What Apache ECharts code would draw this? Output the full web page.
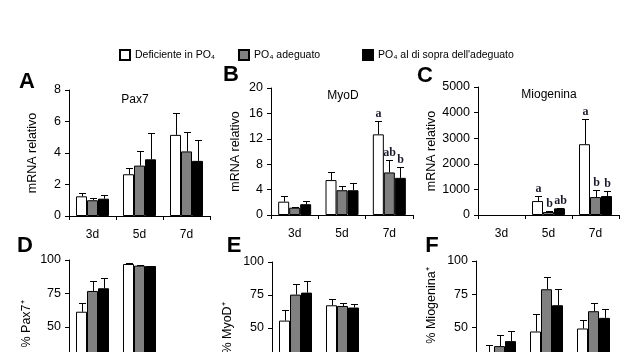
<!DOCTYPE html>
<html>
<head>
<meta charset="utf-8">
<script src="https://cdn.jsdelivr.net/npm/echarts@6/dist/echarts.min.js"></script>
<style>
html, body { margin: 0; padding: 0; background: #fff; }
#main { width: 625px; height: 352px; }
</style>
</head>
<body>
<div id="main"></div>
<script>
// categorie e gruppi
let days = ['3d', '5d', '7d'];
let groups = ['Deficiente in PO₄', 'PO₄ adeguato', "PO₄ al di sopra dell'adeguato"];

// A - Pax7 mRNA (bianco, grigio, nero)
let pax7Mean = [[1.25, 2.65, 5.15], [1.0, 3.2, 4.1], [1.1, 3.6, 3.5]];
let pax7Sem = [[0.2, 0.4, 1.4], [0.15, 0.95, 1.25], [0.25, 1.7, 1.3]];

// B - MyoD mRNA
let myodMean = [[2.1, 5.5, 12.7], [1.15, 3.9, 6.7], [1.7, 3.9, 5.85]];
let myodSem = [[0.9, 1.2, 2.1], [0.15, 0.6, 2.0], [0.5, 1.2, 1.75]];
let myodLetters = [['', '', 'a'], ['', '', 'ab'], ['', '', 'b']];

// C - Miogenina mRNA
let miogMean = [[null, 545, 2766], [null, 117, 700], [null, 260, 740]];
let miogSem = [[null, 195, 1000], [null, 38, 275], [null, 25, 195]];
let miogLetters = [['', 'a', 'a'], ['', 'b', 'b'], ['', 'ab', 'b']];

// D - % Pax7+
let pctPax7Mean = [[61.4, 97, null], [76.9, 95.8, null], [78.9, 95.5, null]];
let pctPax7Sem = [[6.8, 0.5, null], [7.4, 0.3, null], [7.4, 0.3, null]];

// E - % MyoD+
let pctMyodMean = [[55.6, 67.2, null], [75.3, 66.7, null], [76.8, 65.5, null]];
let pctMyodSem = [[7.8, 4.5, null], [8.3, 2.3, null], [9.1, 2.7, null]];

// F - % Miogenina+
let pctMiogMean = [[30, 47, 49.25], [36, 78.75, 62.25], [39.75, 66.75, 57.25]];
let pctMiogSem = [[6.7, 13.5, 6.75], [8, 9.5, 6.25], [7.75, 12, 6.5]];

let FONT = 'Arial, "Liberation Sans", sans-serif';
let BAR_W = 11;
let CAP = 3.5;
let colors = ['#ffffff', '#808080', '#000000'];

let chart = echarts.init(document.getElementById('main'));

// pannelli: griglia, assi, dati
let panels = [
    { grid: { left: 69, top: 90, width: 141, height: 126 }, max: 8, step: 2, name: 'mRNA relativo', gap: 30, shift: 0, mean: pax7Mean, sem: pax7Sem, letters: null, labels: true },
    { grid: { left: 271, top: 88, width: 142, height: 127 }, max: 20, step: 4, name: 'mRNA relativo', gap: 29, shift: 0, mean: myodMean, sem: myodSem, letters: myodLetters, labels: true },
    { grid: { left: 478, top: 87, width: 141, height: 128 }, max: 5000, step: 1000, name: 'mRNA relativo', gap: 37, shift: 0, mean: miogMean, sem: miogSem, letters: miogLetters, labels: true },
    { grid: { left: 69, top: 260, width: 141, height: 134 }, max: 100, step: 25, name: '% Pax7⁺', gap: 36, shift: 6, mean: pctPax7Mean, sem: pctPax7Sem, letters: null, labels: false },
    { grid: { left: 272, top: 262, width: 141, height: 132 }, max: 100, step: 25, name: '% MyoD⁺', gap: 38, shift: 0, mean: pctMyodMean, sem: pctMyodSem, letters: null, labels: false },
    { grid: { left: 476, top: 261, width: 141, height: 133 }, max: 100, step: 25, name: '% Miogenina⁺', gap: 38, shift: 44, mean: pctMiogMean, sem: pctMiogSem, letters: null, labels: false }
];

function makeErrSeries(gi, means, sems, letters) {
    let data = [];
    let tags = [];
    for (let k = 0; k < 3; k++) {
        for (let d = 0; d < days.length; d++) {
            if (means[k][d] == null) continue;
            data.push([d, means[k][d], sems[k][d], k]);
            tags.push(letters ? letters[k][d] : '');
        }
    }
    return {
        type: 'custom',
        xAxisIndex: gi,
        yAxisIndex: gi,
        z: 5,
        silent: true,
        clip: false,
        data: data,
        renderItem: (params, api) => {
            let d = api.value(0), m = api.value(1), s = api.value(2), k = api.value(3);
            let p0 = api.coord([d, m]);
            let p1 = api.coord([d, m + s]);
            let x = Math.round(p0[0] + (k - 1) * BAR_W) + 0.5;
            let y1 = Math.round(p1[1]) + 0.5;
            let children = [
                { type: 'line', shape: { x1: x, y1: p0[1], x2: x, y2: y1 }, style: { stroke: '#000', lineWidth: 1 } },
                { type: 'line', shape: { x1: x - CAP, y1: y1, x2: x + CAP, y2: y1 }, style: { stroke: '#000', lineWidth: 1 } }
            ];
            let tag = tags[params.dataIndex];
            if (tag) {
                children.push({
                    type: 'text', x: x, y: y1 - 2,
                    style: { text: tag, textAlign: 'center', textVerticalAlign: 'bottom', font: 'bold 12px "Liberation Serif", "Times New Roman", serif', fill: '#1a1a2a' }
                });
            }
            return { type: 'group', children: children };
        }
    };
}

let grids = [], xAxes = [], yAxes = [], series = [];
panels.forEach((p, gi) => {
    grids.push(Object.assign({ outerBoundsMode: 'none', containLabel: false }, p.grid));
    xAxes.push({
        type: 'category',
        gridIndex: gi,
        data: days,
        axisLine: { lineStyle: { color: '#000', width: 1 } },
        axisTick: { show: true, length: 4, lineStyle: { color: '#000' } },
        axisLabel: { show: p.labels, margin: 13, color: '#000', fontFamily: FONT, fontSize: 12 }
    });
    yAxes.push({
        type: 'value',
        gridIndex: gi,
        min: 0,
        max: p.max,
        interval: p.step,
        name: p.name,
        nameLocation: 'middle',
        nameGap: p.gap,
        nameTextStyle: { color: '#000', fontFamily: FONT, fontSize: 12.5, padding: [0, 0, 0, p.shift] },
        axisLine: { show: true, lineStyle: { color: '#000', width: 1 } },
        axisTick: { show: true, length: 4, lineStyle: { color: '#000' } },
        axisLabel: { margin: 8, color: '#000', fontFamily: FONT, fontSize: 12.5, formatter: v => String(v) },
        splitLine: { show: false }
    });
    for (let k = 0; k < 3; k++) {
        series.push({
            type: 'bar',
            name: groups[k],
            xAxisIndex: gi,
            yAxisIndex: gi,
            barWidth: BAR_W,
            barGap: '0%',
            data: p.mean[k].map(v => v == null ? '-' : v),
            itemStyle: { color: colors[k], borderColor: '#000', borderWidth: 1 }
        });
    }
    series.push(makeErrSeries(gi, p.mean, p.sem, p.letters));
});

function legendAt(k, left) {
    return {
        data: [groups[k]],
        left: left,
        top: 49,
        padding: 0,
        icon: 'rect',
        itemWidth: 10,
        itemHeight: 10,
        selectedMode: false,
        textStyle: { color: '#000', fontFamily: FONT, fontSize: 10.5 }
    };
}

function label(text, x, y, size, bold) {
    return {
        type: 'text', x: x, y: y,
        style: { text: text, textAlign: 'center', textVerticalAlign: 'middle', fontFamily: FONT, fontSize: size, fontWeight: bold ? 'bold' : 'normal', fill: '#000' }
    };
}

let option = {
    animation: false,
    backgroundColor: '#fff',
    legend: [legendAt(0, 119), legendAt(1, 238), legendAt(2, 362)],
    grid: grids,
    xAxis: xAxes,
    yAxis: yAxes,
    series: series,
    graphic: [
        label('A', 27, 82, 22, true),
        label('B', 231, 75, 22, true),
        label('C', 425, 76, 22, true),
        label('D', 25, 246, 22, true),
        label('E', 234, 246, 22, true),
        label('F', 432, 246, 22, true),
        label('Pax7', 135, 100, 12, false),
        label('MyoD', 343, 96, 12, false),
        label('Miogenina', 549, 95, 12, false)
    ]
};

chart.setOption(option);
</script>
</body>
</html>
